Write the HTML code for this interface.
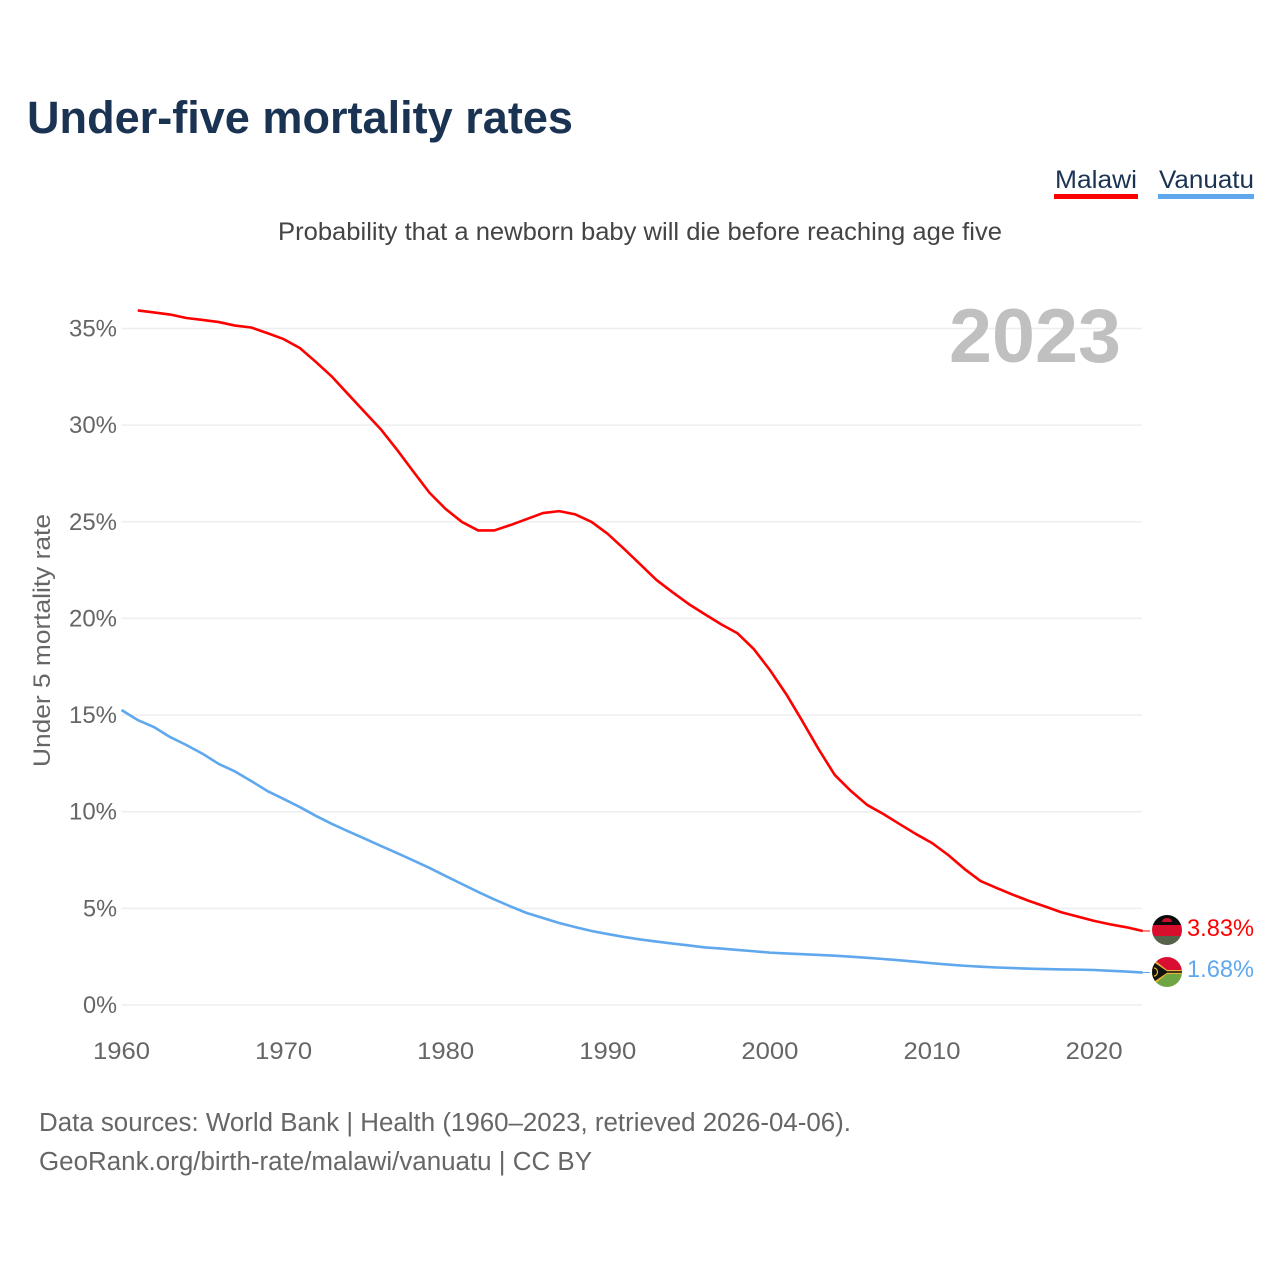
<!DOCTYPE html>
<html lang="en">
<head>
<meta charset="utf-8">
<title>Under-five mortality rates</title>
<style>
html,body{margin:0;padding:0;background:#fff;}
svg{display:block;}
text{font-family:"Liberation Sans",sans-serif;}
</style>
</head>
<body>
<svg id="chart" xmlns="http://www.w3.org/2000/svg" width="1280" height="1280" viewBox="0 0 1280 1280">
  <defs>
    <clipPath id="clip-malawi"><circle cx="1167" cy="930" r="15"/></clipPath>
    <clipPath id="clip-vanuatu"><circle cx="1167" cy="972" r="15"/></clipPath>
  </defs>
  <rect width="1280" height="1280" fill="#fff"/>
  <text x="27" y="133" font-size="45" font-weight="700" fill="#1a3352" textLength="546" lengthAdjust="spacingAndGlyphs">Under-five mortality rates</text>

  <g>
    <text x="1055" y="188" font-size="25" fill="#1a3352" textLength="82" lengthAdjust="spacingAndGlyphs">Malawi</text>
    <rect x="1054" y="194" width="84" height="5" fill="#ff0000"/>
  </g>
  <g>
    <text x="1159" y="188" font-size="25" fill="#1a3352" textLength="95" lengthAdjust="spacingAndGlyphs">Vanuatu</text>
    <rect x="1158" y="194" width="96" height="5" fill="#5fa8ee"/>
  </g>

  <text x="278" y="240" font-size="25" fill="#444" textLength="724" lengthAdjust="spacingAndGlyphs">Probability that a newborn baby will die before reaching age five</text>

  <g id="grid"></g>
  <g id="y-ticks"></g>
  <g id="x-ticks"></g>

  <text transform="translate(50 640.5) rotate(-90)" text-anchor="middle" font-size="24" fill="#666" textLength="253" lengthAdjust="spacingAndGlyphs">Under 5 mortality rate</text>

  <text x="949" y="362" font-size="76" font-weight="700" fill="#c0c0c0" textLength="172" lengthAdjust="spacingAndGlyphs">2023</text>

  <g id="series"></g>

  <g clip-path="url(#clip-malawi)">
    <rect x="1152" y="915" width="30" height="10" fill="#0a0a0a"/>
    <rect x="1152" y="925" width="30" height="11" fill="#d80f2c"/>
    <rect x="1152" y="936" width="30" height="10" fill="#55634a"/>
    <path d="M1162 922 a5 4 0 0 1 10 0 z" fill="#c8102e"/>
  </g>
  <g clip-path="url(#clip-vanuatu)">
    <rect x="1152" y="957" width="30" height="15" fill="#d80f33"/>
    <rect x="1152" y="972" width="30" height="15" fill="#6ea644"/>
    <path d="M1152 958 L1167 970 H1182 V974 H1167 L1152 986 Z" fill="#e8b33a"/>
    <path d="M1152 961 L1167 971.2 H1182 V972.8 H1167 L1152 983 Z" fill="#111"/>
    <path d="M1154 968 a3.5 4 0 1 1 0 8" fill="none" stroke="#e8b33a" stroke-width="1.2"/>
  </g>

  <text id="value-malawi" x="1187" y="936" font-size="24" fill="#ff0000" textLength="67" lengthAdjust="spacingAndGlyphs"></text>
  <text id="value-vanuatu" x="1187" y="977" font-size="24" fill="#5fa8ee" textLength="67" lengthAdjust="spacingAndGlyphs"></text>

  <text x="39" y="1131" font-size="25.5" fill="#666" textLength="812" lengthAdjust="spacingAndGlyphs">Data sources: World Bank | Health (1960–2023, retrieved 2026-04-06).</text>
  <text x="39" y="1170" font-size="25.5" fill="#666" textLength="553" lengthAdjust="spacingAndGlyphs">GeoRank.org/birth-rate/malawi/vanuatu | CC BY</text>
</svg>
<script>
const yTickValues = [0, 5, 10, 15, 20, 25, 30, 35];
const xTickYears = [1960, 1970, 1980, 1990, 2000, 2010, 2020];
const malawiStartYear = 1961;
const malawiValues = [35.93,35.83,35.72,35.54,35.44,35.33,35.15,35.05,34.76,34.45,33.99,33.26,32.49,31.58,30.68,29.78,28.72,27.6,26.5,25.66,24.99,24.55,24.55,24.83,25.14,25.45,25.55,25.38,24.99,24.37,23.6,22.8,21.99,21.35,20.74,20.21,19.69,19.23,18.42,17.33,16.09,14.69,13.24,11.9,11.07,10.35,9.88,9.36,8.85,8.38,7.76,7.04,6.41,6.05,5.7,5.38,5.09,4.79,4.57,4.35,4.17,4.02,3.83];
const vanuatuStartYear = 1960;
const vanuatuValues = [15.26,14.74,14.38,13.86,13.45,13.0,12.47,12.08,11.59,11.07,10.66,10.24,9.78,9.36,8.98,8.61,8.23,7.86,7.48,7.09,6.67,6.26,5.85,5.46,5.1,4.76,4.5,4.24,4.03,3.83,3.67,3.52,3.39,3.28,3.18,3.08,2.98,2.92,2.85,2.78,2.71,2.67,2.63,2.59,2.55,2.5,2.44,2.38,2.31,2.24,2.16,2.09,2.03,1.98,1.94,1.91,1.88,1.86,1.84,1.83,1.81,1.77,1.73,1.68];

const NS = 'http://www.w3.org/2000/svg';
function xScale(year) { return 121.5 + (year - 1960) * 16.21; }
function yScale(v) { return 1005 - v * 19.33; }
function pathFor(values, startYear) {
  return values.map(function (v, i) {
    return (i ? 'L' : 'M') + xScale(startYear + i).toFixed(2) + ' ' + yScale(v).toFixed(2);
  }).join(' ');
}

const gridG = document.getElementById('grid');
const yG = document.getElementById('y-ticks');
yTickValues.forEach(function (v) {
  const line = document.createElementNS(NS, 'line');
  
  
  line.setAttribute('x1', 121.5);
  line.setAttribute('x2', 1142);
  line.setAttribute('y1', yScale(v));
  line.setAttribute('y2', yScale(v));
  line.setAttribute('stroke', '#eeeeee');
  line.setAttribute('stroke-width', 1.5);
  gridG.appendChild(line);

  const t = document.createElementNS(NS, 'text');
  
  
  t.setAttribute('x', 117);
  t.setAttribute('y', yScale(v) + 8);
  t.setAttribute('text-anchor', 'end');
  t.setAttribute('font-size', 24);
  t.setAttribute('fill', '#666');
  t.setAttribute('textLength', v >= 10 ? 48 : 34);
  t.setAttribute('lengthAdjust', 'spacingAndGlyphs');
  t.textContent = v + '%';
  yG.appendChild(t);
});

const xG = document.getElementById('x-ticks');
xTickYears.forEach(function (y) {
  const t = document.createElementNS(NS, 'text');
  
  
  t.setAttribute('x', xScale(y));
  t.setAttribute('y', 1059);
  t.setAttribute('text-anchor', 'middle');
  t.setAttribute('font-size', 24);
  t.setAttribute('fill', '#666');
  t.setAttribute('textLength', 57);
  t.setAttribute('lengthAdjust', 'spacingAndGlyphs');
  t.textContent = String(y);
  xG.appendChild(t);
});

const seriesG = document.getElementById('series');

const leaderMalawi = document.createElementNS(NS, 'line');


leaderMalawi.setAttribute('x1', xScale(2023));
leaderMalawi.setAttribute('x2', 1150);
leaderMalawi.setAttribute('y1', yScale(malawiValues[malawiValues.length - 1]));
leaderMalawi.setAttribute('y2', yScale(malawiValues[malawiValues.length - 1]));
leaderMalawi.setAttribute('stroke', '#ff0000');
leaderMalawi.setAttribute('stroke-width', 1);
seriesG.appendChild(leaderMalawi);

const leaderVanuatu = document.createElementNS(NS, 'line');


leaderVanuatu.setAttribute('x1', xScale(2023));
leaderVanuatu.setAttribute('x2', 1150);
leaderVanuatu.setAttribute('y1', yScale(vanuatuValues[vanuatuValues.length - 1]));
leaderVanuatu.setAttribute('y2', yScale(vanuatuValues[vanuatuValues.length - 1]));
leaderVanuatu.setAttribute('stroke', '#5fa8ee');
leaderVanuatu.setAttribute('stroke-width', 1);
seriesG.appendChild(leaderVanuatu);

const malawiLine = document.createElementNS(NS, 'path');


malawiLine.setAttribute('d', pathFor(malawiValues, malawiStartYear));
malawiLine.setAttribute('fill', 'none');
malawiLine.setAttribute('stroke', '#ff0000');
malawiLine.setAttribute('stroke-width', 2.6);
malawiLine.setAttribute('stroke-linejoin', 'round');
seriesG.appendChild(malawiLine);

const vanuatuLine = document.createElementNS(NS, 'path');


vanuatuLine.setAttribute('d', pathFor(vanuatuValues, vanuatuStartYear));
vanuatuLine.setAttribute('fill', 'none');
vanuatuLine.setAttribute('stroke', '#5fa8ee');
vanuatuLine.setAttribute('stroke-width', 2.6);
vanuatuLine.setAttribute('stroke-linejoin', 'round');
seriesG.appendChild(vanuatuLine);

document.getElementById('value-malawi').textContent = malawiValues[malawiValues.length - 1].toFixed(2) + '%';
document.getElementById('value-vanuatu').textContent = vanuatuValues[vanuatuValues.length - 1].toFixed(2) + '%';
</script>
</body>
</html>
